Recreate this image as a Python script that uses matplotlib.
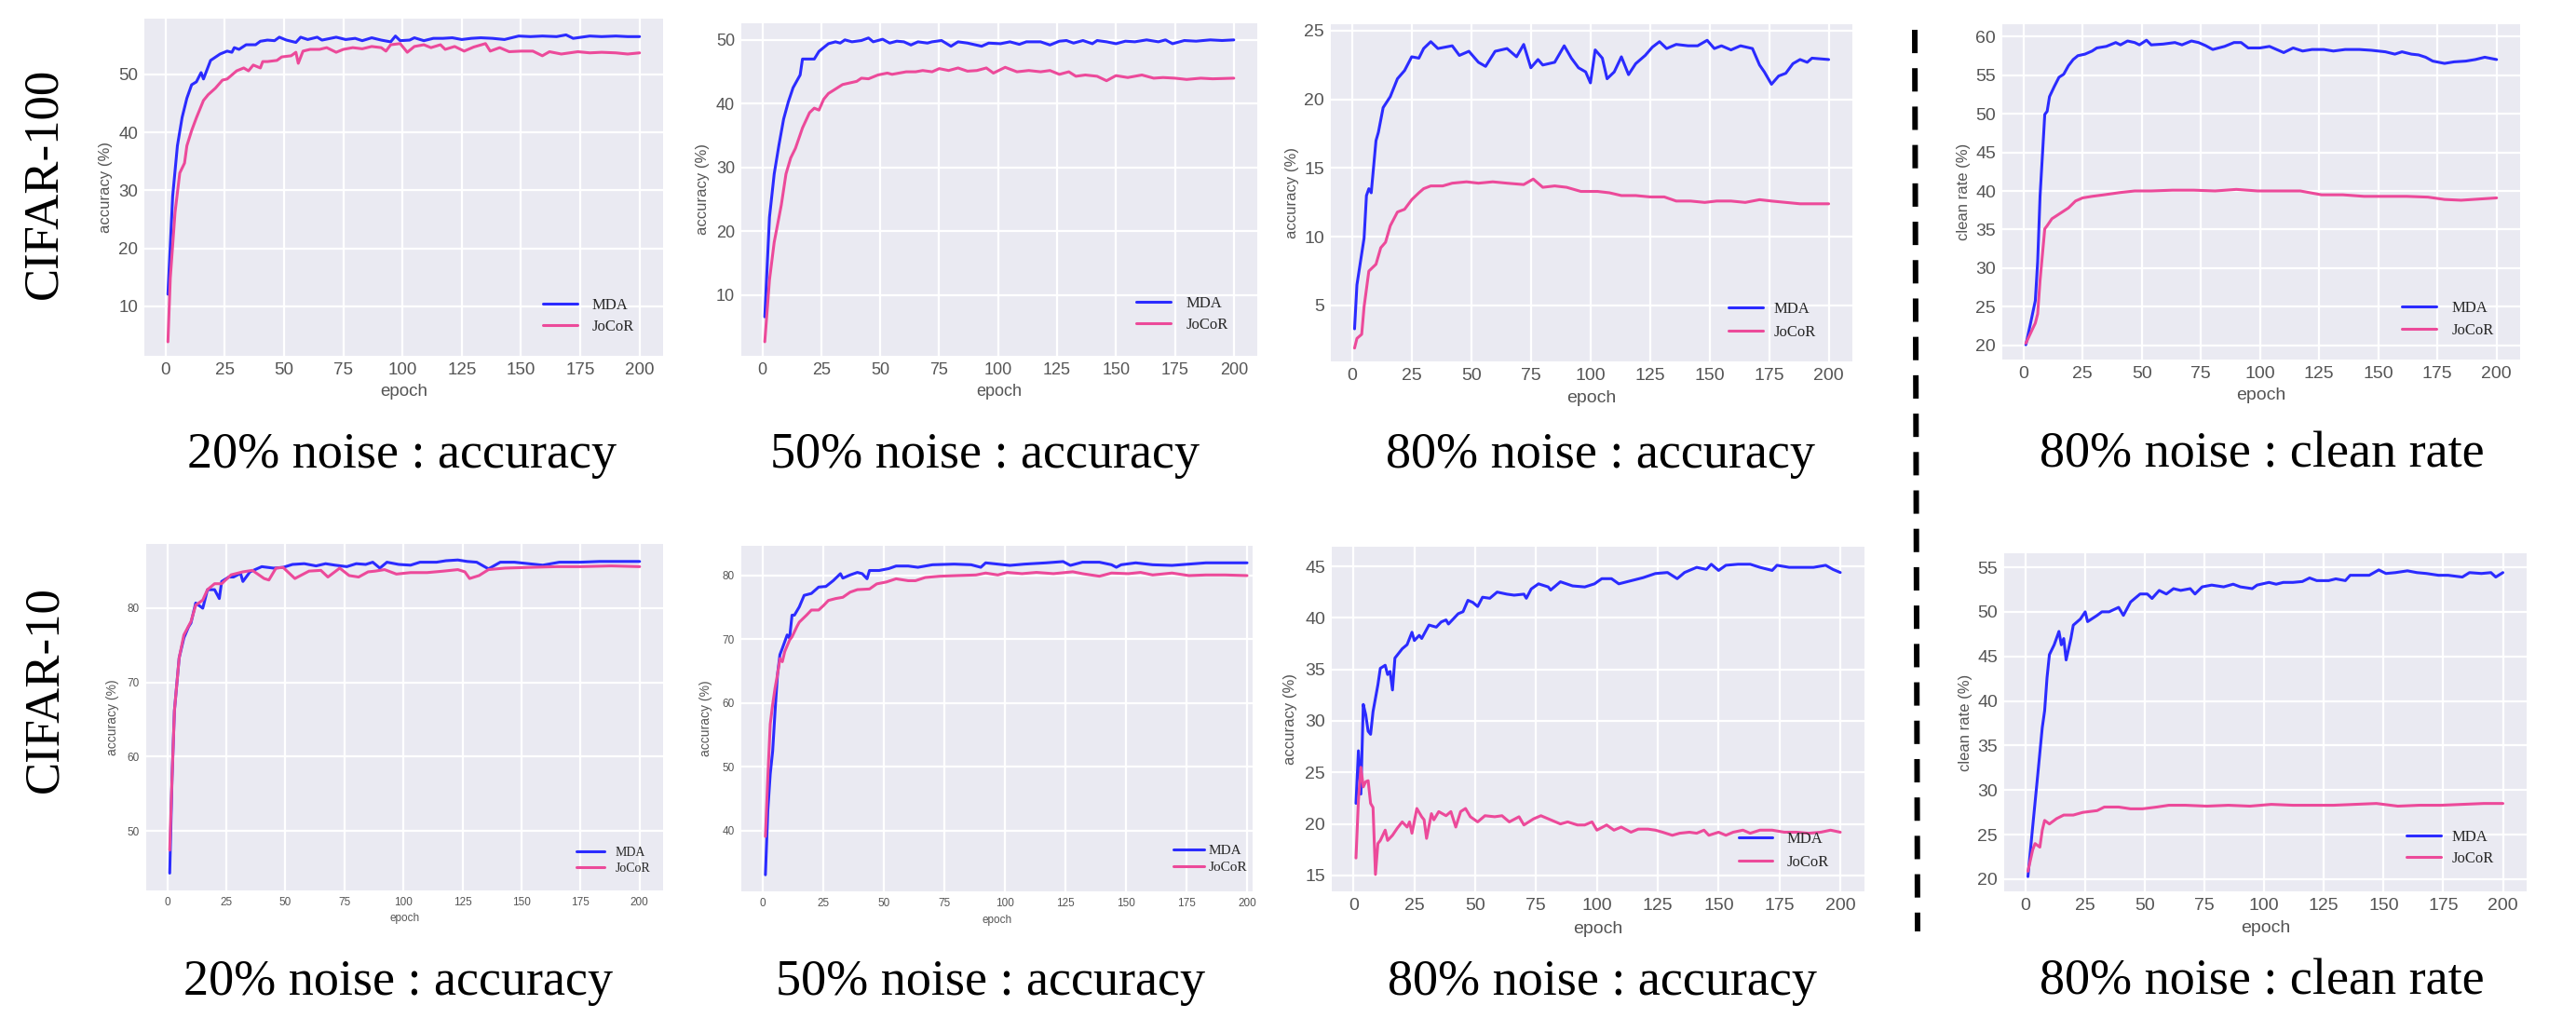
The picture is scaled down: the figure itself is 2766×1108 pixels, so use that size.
import matplotlib
matplotlib.use("Agg")
import matplotlib.pyplot as plt
import seaborn as sns
from matplotlib import font_manager
from matplotlib.lines import Line2D

# ---------------- data ----------------
methods = ["MDA", "JoCoR"]
row_labels = ["CIFAR-100", "CIFAR-10"]
titles = ["20% noise : accuracy", "50% noise : accuracy",
          "80% noise : accuracy", "80% noise : clean rate"]
ylabels = ["accuracy (%)", "accuracy (%)", "accuracy (%)", "clean rate (%)"]
xlabel = "epoch"
xticks = [0, 25, 50, 75, 100, 125, 150, 175, 200]

# CIFAR-100, 20% noise, accuracy
c100_20_ep_mda = [1, 3, 5, 7, 9, 11, 13, 15, 16, 19, 23, 26, 28, 29, 31, 34, 38, 40, 43, 46,
                  48, 51, 55, 57, 60, 64, 66, 72, 76, 80, 83, 87, 91, 95, 97, 99, 103, 105, 109, 113,
                  117, 121, 125, 129, 133, 138, 143, 149, 154, 159, 165, 169, 172, 179, 184, 190, 195, 200]
c100_20_mda = [12.1, 29.0, 37.7, 42.6, 45.9, 48.2, 48.7, 50.3, 49.2, 52.4, 53.5, 54.0, 53.8, 54.6, 54.3, 55.1, 55.1, 55.7, 55.9, 55.8,
               56.4, 55.9, 55.5, 56.4, 56.0, 56.4, 55.9, 56.4, 56.0, 56.2, 55.8, 56.3, 55.9, 55.6, 56.6, 55.8, 55.9, 56.3, 55.8, 56.2,
               56.2, 56.3, 56.0, 56.2, 56.3, 56.2, 56.0, 56.6, 56.5, 56.6, 56.5, 56.8, 56.2, 56.6, 56.5, 56.6, 56.5, 56.5]
c100_20_ep_jocor = [1, 2, 4, 6, 8, 9, 11, 13, 16, 18, 21, 24, 26, 30, 33, 35, 37, 40, 41, 43,
                    47, 49, 53, 55, 56, 58, 61, 65, 68, 72, 75, 79, 83, 87, 91, 93, 95, 99, 102, 105,
                    109, 112, 116, 118, 122, 126, 130, 135, 137, 141, 145, 150, 155, 159, 162, 167, 174, 179, 184, 190,
                    195, 200]
c100_20_jocor = [3.9, 14.9, 26.2, 33.0, 34.7, 37.7, 40.3, 42.5, 45.5, 46.5, 47.6, 49.0, 49.2, 50.6, 51.1, 50.6, 51.6, 51.1, 52.2, 52.2,
                 52.4, 53.0, 53.2, 53.8, 51.9, 54.0, 54.3, 54.3, 54.6, 53.8, 54.3, 54.6, 54.4, 54.8, 54.6, 54.0, 55.1, 55.3, 53.8, 54.8,
                 55.1, 54.6, 55.1, 54.3, 54.8, 54.0, 54.7, 55.3, 54.0, 54.6, 53.9, 54.0, 54.0, 53.2, 53.9, 53.5, 53.9, 53.7, 53.8, 53.7,
                 53.5, 53.7]

# CIFAR-100, 50% noise, accuracy
c100_50_ep_mda = [1, 3, 5, 7, 9, 11, 13, 16, 17, 22, 24, 26, 28, 31, 33, 35, 38, 42, 45, 47,
                  51, 54, 57, 60, 63, 66, 70, 72, 76, 80, 83, 87, 93, 96, 101, 105, 109, 112, 118, 122,
                  126, 129, 132, 136, 140, 142, 146, 150, 154, 158, 163, 168, 171, 174, 179, 184, 190, 195, 200]
c100_50_mda = [6.6, 22.2, 29.0, 33.5, 37.6, 40.3, 42.5, 44.5, 47.0, 47.0, 48.2, 48.8, 49.4, 49.7, 49.5, 50.0, 49.7, 49.9, 50.3, 49.7,
               50.1, 49.5, 49.8, 49.7, 49.2, 49.7, 49.5, 49.7, 49.9, 49.0, 49.7, 49.5, 49.0, 49.5, 49.4, 49.7, 49.3, 49.7, 49.7, 49.2,
               49.8, 49.9, 49.5, 49.9, 49.4, 49.9, 49.7, 49.4, 49.8, 49.7, 50.0, 49.7, 50.0, 49.4, 49.9, 49.8, 50.0, 49.9, 50.0]
c100_50_ep_jocor = [1, 3, 5, 8, 10, 12, 14, 17, 20, 22, 24, 26, 28, 34, 40, 42, 45, 49, 53, 55,
                    61, 65, 68, 72, 75, 79, 83, 87, 91, 95, 98, 103, 108, 113, 118, 122, 126, 130, 133, 137,
                    142, 146, 150, 155, 161, 166, 170, 175, 180, 186, 191, 200]
c100_50_jocor = [2.7, 12.4, 18.3, 24.1, 29.0, 31.5, 33.0, 36.2, 38.6, 39.3, 39.0, 40.7, 41.6, 43.0, 43.5, 44.0, 43.9, 44.5, 44.8, 44.6,
                 45.0, 45.0, 45.2, 45.0, 45.5, 45.2, 45.6, 45.1, 45.2, 45.6, 44.8, 45.7, 45.0, 45.2, 45.0, 45.2, 44.6, 45.0, 44.3, 44.5,
                 44.3, 43.6, 44.4, 44.1, 44.5, 44.0, 44.1, 44.0, 43.8, 44.0, 43.9, 44.0]

# CIFAR-100, 80% noise, accuracy
c100_80_ep_mda = [1, 2, 5, 6, 7, 8, 10, 11, 13, 16, 19, 22, 25, 28, 30, 33, 36, 42, 45, 49,
                  53, 56, 60, 65, 69, 72, 75, 78, 80, 85, 89, 92, 95, 98, 100, 102, 105, 107, 110, 113,
                  116, 119, 123, 126, 129, 132, 136, 141, 145, 149, 152, 155, 159, 163, 168, 171, 173, 176, 179, 182,
                  185, 188, 191, 193, 200]
c100_80_mda = [3.3, 6.5, 9.9, 13.0, 13.5, 13.2, 17.0, 17.6, 19.4, 20.2, 21.5, 22.1, 23.1, 23.0, 23.7, 24.2, 23.7, 23.9, 23.2, 23.5,
               22.7, 22.4, 23.5, 23.7, 23.1, 24.0, 22.3, 22.9, 22.5, 22.7, 23.9, 23.0, 22.3, 22.0, 21.2, 23.6, 23.0, 21.5, 22.0, 23.1,
               21.8, 22.6, 23.2, 23.8, 24.2, 23.7, 24.0, 23.9, 23.9, 24.3, 23.7, 23.9, 23.6, 23.9, 23.7, 22.5, 22.0, 21.1, 21.7, 21.9,
               22.6, 22.9, 22.7, 23.0, 22.9]
c100_80_ep_jocor = [1, 2, 4, 5, 7, 10, 12, 14, 16, 19, 22, 25, 28, 30, 33, 38, 42, 48, 53, 59,
                    65, 72, 76, 80, 85, 90, 96, 103, 108, 113, 119, 125, 131, 136, 142, 148, 153, 159, 165, 171,
                    176, 182, 188, 200]
c100_80_jocor = [1.9, 2.6, 2.9, 4.9, 7.5, 8.0, 9.2, 9.6, 10.8, 11.8, 12.0, 12.7, 13.2, 13.5, 13.7, 13.7, 13.9, 14.0, 13.9, 14.0,
                 13.9, 13.8, 14.2, 13.6, 13.7, 13.6, 13.3, 13.3, 13.2, 13.0, 13.0, 12.9, 12.9, 12.6, 12.6, 12.5, 12.6, 12.6, 12.5, 12.7,
                 12.6, 12.5, 12.4, 12.4]

# CIFAR-100, 80% noise, clean rate
c100_cr_ep_mda = [1, 3, 5, 6, 7, 9, 10, 11, 13, 15, 17, 19, 21, 23, 26, 29, 31, 35, 39, 41,
                  44, 47, 49, 52, 54, 59, 64, 67, 71, 74, 77, 80, 85, 89, 92, 95, 100, 104, 110, 114,
                  118, 122, 127, 131, 136, 142, 147, 153, 157, 160, 164, 167, 170, 173, 178, 182, 187, 191, 195, 200]
c100_cr_mda = [20.1, 22.9, 25.8, 30.9, 39.3, 49.9, 50.3, 52.2, 53.5, 54.7, 55.1, 56.2, 57.0, 57.5, 57.7, 58.1, 58.5, 58.7, 59.2, 58.9,
               59.4, 59.2, 58.9, 59.5, 58.9, 59.0, 59.2, 58.9, 59.4, 59.2, 58.8, 58.3, 58.7, 59.2, 59.2, 58.5, 58.5, 58.7, 57.9, 58.5,
               58.1, 58.3, 58.3, 58.1, 58.3, 58.3, 58.2, 58.0, 57.7, 58.0, 57.7, 57.6, 57.3, 56.8, 56.5, 56.7, 56.8, 57.0, 57.3, 57.0]
c100_cr_ep_jocor = [1, 3, 5, 6, 7, 9, 10, 12, 14, 16, 19, 22, 25, 29, 34, 41, 47, 54, 63, 72,
                    81, 90, 99, 108, 117, 126, 135, 144, 153, 162, 171, 178, 185, 190, 200]
c100_cr_jocor = [20.3, 21.6, 22.9, 24.1, 28.4, 35.1, 35.5, 36.4, 36.8, 37.2, 37.8, 38.7, 39.1, 39.3, 39.5, 39.8, 40.0, 40.0, 40.1, 40.1,
                 40.0, 40.2, 40.0, 40.0, 40.0, 39.5, 39.5, 39.3, 39.3, 39.3, 39.2, 38.9, 38.8, 38.9, 39.1]

# CIFAR-10, 20% noise, accuracy
c10_20_ep_mda = [1, 2, 3, 5, 7, 9, 10, 12, 15, 17, 20, 22, 23, 26, 28, 31, 32, 35, 40, 45,
                 49, 53, 58, 63, 67, 71, 76, 80, 84, 87, 90, 93, 98, 103, 107, 114, 118, 123, 127, 131,
                 136, 141, 147, 153, 159, 166, 175, 183, 189, 200]
c10_20_mda = [44.3, 57.2, 66.2, 73.3, 76.0, 77.5, 78.0, 80.7, 80.0, 82.5, 82.5, 81.3, 83.6, 84.2, 84.2, 84.7, 83.6, 84.9, 85.6, 85.4,
              85.5, 85.9, 86.0, 85.7, 86.0, 85.8, 85.6, 86.0, 85.9, 86.2, 85.4, 86.2, 85.9, 85.8, 86.2, 86.2, 86.4, 86.5, 86.3, 86.2,
              85.3, 86.2, 86.2, 86.0, 85.8, 86.2, 86.2, 86.3, 86.3, 86.3]
c10_20_ep_jocor = [1, 2, 3, 5, 7, 10, 12, 15, 17, 20, 23, 27, 32, 36, 41, 43, 46, 49, 54, 60,
                   65, 68, 73, 77, 81, 85, 88, 92, 97, 103, 110, 117, 123, 126, 128, 132, 136, 143, 153, 165,
                   175, 188, 200]
c10_20_jocor = [47.4, 57.2, 66.2, 73.3, 76.4, 78.2, 80.4, 81.1, 82.5, 83.3, 83.3, 84.5, 84.9, 85.1, 84.0, 83.8, 85.4, 85.5, 84.0, 85.0,
                85.1, 84.2, 85.4, 84.4, 84.2, 84.9, 85.0, 85.2, 84.6, 84.8, 84.8, 85.0, 85.2, 84.9, 84.0, 84.4, 85.2, 85.4, 85.5, 85.6,
                85.6, 85.7, 85.6]

# CIFAR-10, 50% noise, accuracy
c10_50_ep_mda = [1, 2, 3, 4, 5, 6, 7, 8, 10, 11, 12, 13, 15, 17, 20, 23, 26, 29, 32, 33,
                 36, 39, 41, 43, 44, 48, 52, 55, 60, 64, 70, 79, 86, 90, 92, 97, 102, 108, 117, 124,
                 127, 132, 139, 144, 146, 148, 154, 161, 169, 176, 183, 191, 200]
c10_50_mda = [33.1, 43.2, 48.9, 52.5, 58.8, 64.5, 67.6, 68.6, 70.7, 70.2, 73.8, 73.8, 75.1, 76.9, 77.2, 78.2, 78.3, 79.2, 80.3, 79.6,
              80.1, 80.5, 80.3, 79.5, 80.8, 80.8, 81.1, 81.5, 81.5, 81.3, 81.7, 81.8, 81.7, 81.3, 82.0, 81.8, 81.6, 81.8, 82.0, 82.2,
              81.6, 82.1, 82.1, 81.7, 81.3, 81.7, 82.0, 81.7, 81.6, 81.8, 82.0, 82.0, 82.0]
c10_50_ep_jocor = [1, 2, 3, 4, 5, 6, 7, 8, 9, 11, 12, 14, 15, 18, 20, 23, 25, 27, 30, 33,
                   36, 39, 44, 47, 51, 55, 60, 63, 67, 73, 80, 88, 92, 97, 101, 107, 113, 120, 128, 132,
                   139, 144, 151, 156, 161, 169, 176, 183, 191, 200]
c10_50_jocor = [39.1, 48.4, 56.7, 59.8, 62.4, 64.5, 67.0, 66.5, 68.1, 69.9, 70.4, 72.0, 72.7, 73.8, 74.6, 74.6, 75.3, 76.1, 76.4, 76.6,
                77.4, 77.8, 77.9, 78.7, 79.0, 79.5, 79.2, 79.2, 79.7, 79.9, 80.0, 80.1, 80.4, 80.1, 80.5, 80.3, 80.5, 80.3, 80.6, 80.3,
                79.9, 80.4, 80.3, 80.5, 80.1, 80.4, 80.0, 80.1, 80.1, 80.0]

# CIFAR-10, 80% noise, accuracy
c10_80_ep_mda = [1, 2, 3, 4, 5, 6, 7, 8, 10, 11, 13, 14, 15, 16, 17, 19, 20, 22, 24, 25,
                 27, 28, 31, 34, 36, 38, 39, 41, 43, 45, 47, 49, 51, 53, 56, 59, 63, 66, 70, 71,
                 73, 76, 80, 81, 85, 90, 95, 99, 102, 106, 109, 114, 119, 124, 129, 133, 136, 139, 141, 145,
                 147, 150, 153, 158, 163, 167, 172, 174, 179, 184, 189, 194, 197, 200]
c10_80_mda = [22.0, 27.1, 22.9, 31.6, 30.6, 29.0, 28.7, 30.9, 33.5, 35.1, 35.4, 34.5, 34.8, 33.0, 36.1, 36.7, 37.0, 37.4, 38.6, 37.8,
              38.3, 38.0, 39.3, 39.1, 39.6, 39.8, 39.4, 39.9, 40.4, 40.6, 41.7, 41.5, 41.1, 42.0, 41.9, 42.5, 42.3, 42.2, 42.3, 41.9,
              42.8, 43.3, 43.0, 42.7, 43.5, 43.1, 43.0, 43.3, 43.8, 43.8, 43.3, 43.6, 43.9, 44.3, 44.4, 43.8, 44.4, 44.7, 44.9, 44.7,
              45.2, 44.6, 45.1, 45.2, 45.2, 44.9, 44.6, 45.1, 44.9, 44.9, 44.9, 45.1, 44.7, 44.4]
c10_80_ep_jocor = [1, 2, 3, 4, 5, 6, 7, 8, 9, 10, 11, 13, 14, 16, 18, 20, 22, 23, 24, 26,
                   28, 29, 30, 32, 33, 35, 38, 40, 42, 44, 46, 48, 51, 54, 58, 61, 64, 68, 70, 74,
                   77, 81, 85, 88, 92, 95, 98, 100, 104, 107, 110, 114, 117, 121, 124, 127, 131, 134, 138, 141,
                   144, 146, 150, 153, 156, 160, 163, 167, 172, 177, 182, 187, 192, 196, 200]
c10_80_jocor = [16.7, 22.3, 25.5, 23.6, 24.1, 24.2, 22.0, 21.6, 15.1, 18.1, 18.4, 19.4, 18.4, 18.9, 19.6, 20.2, 19.7, 20.2, 19.1, 21.5,
                20.7, 20.4, 18.6, 21.0, 20.4, 21.2, 20.8, 21.2, 19.7, 21.2, 21.5, 20.7, 20.2, 20.8, 20.7, 20.8, 20.2, 20.7, 19.9, 20.5,
                20.8, 20.4, 20.0, 20.2, 19.9, 19.9, 20.2, 19.4, 19.9, 19.4, 19.7, 19.2, 19.5, 19.5, 19.4, 19.2, 18.9, 19.1, 19.2, 19.1,
                19.4, 18.9, 19.2, 18.9, 19.2, 19.4, 19.1, 19.4, 19.4, 19.2, 19.2, 19.1, 19.2, 19.4, 19.2]

# CIFAR-10, 80% noise, clean rate
c10_cr_ep_mda = [1, 3, 5, 7, 8, 9, 10, 12, 14, 15, 16, 17, 19, 20, 23, 25, 26, 30, 32, 35,
                 39, 41, 44, 48, 51, 53, 56, 59, 62, 65, 69, 71, 74, 78, 83, 87, 90, 95, 97, 102,
                 105, 108, 112, 116, 119, 122, 127, 130, 134, 136, 140, 144, 148, 151, 155, 160, 164, 168, 173, 177,
                 183, 186, 191, 195, 197, 200]
c10_cr_mda = [20.3, 25.9, 31.4, 37.0, 38.9, 42.6, 45.2, 46.3, 47.8, 46.3, 47.0, 44.6, 47.0, 48.5, 49.2, 50.0, 48.9, 49.6, 50.0, 50.0,
              50.5, 49.6, 51.1, 52.0, 52.0, 51.5, 52.4, 52.0, 52.6, 52.4, 52.6, 52.0, 52.8, 53.0, 52.8, 53.1, 52.8, 52.6, 53.0, 53.3,
              53.1, 53.3, 53.3, 53.4, 53.8, 53.5, 53.5, 53.7, 53.5, 54.1, 54.1, 54.1, 54.7, 54.3, 54.4, 54.6, 54.4, 54.3, 54.1, 54.1,
              53.9, 54.4, 54.3, 54.4, 53.9, 54.4]
c10_cr_ep_jocor = [1, 3, 4, 6, 7, 8, 10, 13, 16, 20, 24, 30, 33, 39, 44, 49, 55, 60, 67, 76,
                   85, 94, 103, 112, 120, 129, 138, 147, 156, 165, 174, 183, 192, 200]
c10_cr_jocor = [20.9, 23.3, 24.0, 23.6, 25.5, 26.6, 26.2, 26.8, 27.2, 27.2, 27.5, 27.7, 28.1, 28.1, 27.9, 27.9, 28.1, 28.3, 28.3, 28.2,
                28.3, 28.2, 28.4, 28.3, 28.3, 28.3, 28.4, 28.5, 28.2, 28.3, 28.3, 28.4, 28.5, 28.5]

panels_data = [
    (c100_20_ep_mda, c100_20_mda, c100_20_ep_jocor, c100_20_jocor),
    (c100_50_ep_mda, c100_50_mda, c100_50_ep_jocor, c100_50_jocor),
    (c100_80_ep_mda, c100_80_mda, c100_80_ep_jocor, c100_80_jocor),
    (c100_cr_ep_mda, c100_cr_mda, c100_cr_ep_jocor, c100_cr_jocor),
    (c10_20_ep_mda, c10_20_mda, c10_20_ep_jocor, c10_20_jocor),
    (c10_50_ep_mda, c10_50_mda, c10_50_ep_jocor, c10_50_jocor),
    (c10_80_ep_mda, c10_80_mda, c10_80_ep_jocor, c10_80_jocor),
    (c10_cr_ep_mda, c10_cr_mda, c10_cr_ep_jocor, c10_cr_jocor),
]
yticks_list = [
    [10, 20, 30, 40, 50], [10, 20, 30, 40, 50], [5, 10, 15, 20, 25], list(range(20, 61, 5)),
    [50, 60, 70, 80], [40, 50, 60, 70, 80], list(range(15, 46, 5)), list(range(20, 56, 5)),
]

# ---------------- layout / style ----------------
sns.set_style("darkgrid")
names = {f.name for f in font_manager.fontManager.ttflist}
NARROW = "Liberation Sans Narrow" if "Liberation Sans Narrow" in names else "Liberation Sans"
SERIF = "Liberation Serif"
plt.rcParams["font.family"] = ["Liberation Sans", "DejaVu Sans"]

W, H = 2766, 1108
fig = plt.figure(figsize=(W / 100, H / 100), dpi=100)
fig.patch.set_facecolor("white")

COL_MDA = "#2b2bff"
COL_JOCOR = "#ec4a9a"
TICK_COL = "#555555"

# (left, right, top, bottom) in pixels
boxes = [(155, 712, 20, 382), (796, 1350, 25, 382), (1429, 1989, 26, 388), (2150, 2706, 26, 386),
         (157, 712, 584, 956), (796, 1345, 586, 957), (1430, 2002, 587, 957), (2152, 2713, 594, 957)]
ylims = [(1.49, 59.6), (0.5, 52.6), (0.93, 25.47), (18.19, 61.57),
         (41.97, 88.66), (30.5, 84.67), (13.46, 46.9), (18.64, 56.57)]
xlims = [(-8.95, 209.95)] * 5 + [(-8.95, 202.3)] + [(-8.95, 209.95)] * 2
tick_fs = [13.5, 13, 14, 14, 8.5, 8.5, 14, 14]
ylab_fs = [12, 12, 12, 12, 10, 10, 12, 12]
ylab_x = [-0.061, -0.061, -0.061, -0.061, -0.052, -0.056, -0.065, -0.061]
xlab_y = [-0.083, -0.084, -0.086, -0.083, -0.065, -0.067, -0.086, -0.085]
leg_anchor = [(689, 367), (1327, 365), (1958, 373), (2686, 371),
              (705, 946), (1347, 946), (1972, 942), (2686, 938)]
leg_fs = [12, 12, 12, 12, 10, 11, 12, 12]
leg_pad = [0.95, 1.0, 0.7, 1.0, 0.8, 0.3, 0.9, 0.7]
leg_space = [0.4, 0.4, 0.5, 0.45, 0.3, 0.3, 0.5, 0.4]

for i, (epm, vm, epj, vj) in enumerate(panels_data):
    l, r, t, b = boxes[i]
    ax = fig.add_axes([l / W, 1 - b / H, (r - l) / W, (b - t) / H])
    ax.set_facecolor("#EAEAF2")
    lm, = ax.plot(epm, vm, color=COL_MDA, lw=2.2, label=methods[0])
    lj, = ax.plot(epj, vj, color=COL_JOCOR, lw=2.2, label=methods[1])
    ax.set_xlim(*xlims[i])
    ax.set_ylim(*ylims[i])
    ax.set_xticks(xticks)
    ax.set_yticks(yticks_list[i])
    ax.grid(True, color="white", lw=1.6)
    for s in ax.spines.values():
        s.set_visible(False)
    ax.tick_params(axis="both", length=0, pad=5, labelsize=tick_fs[i], labelcolor=TICK_COL)
    for lab in ax.get_xticklabels() + ax.get_yticklabels():
        lab.set_family(NARROW)
    ax.set_xlabel(xlabel, fontsize=tick_fs[i], color=TICK_COL, family=NARROW)
    ax.set_ylabel(ylabels[i % 4], fontsize=ylab_fs[i], color=TICK_COL, family="Liberation Sans")
    ax.yaxis.set_label_coords(ylab_x[i], 0.5)
    ax.xaxis.set_label_coords(0.5, xlab_y[i])
    ax_, ay_ = leg_anchor[i]
    ax.legend(handles=[lm, lj], loc="lower right", bbox_to_anchor=(ax_ / W, 1 - ay_ / H),
              bbox_transform=fig.transFigure, frameon=False, borderpad=0,
              prop={"family": SERIF, "size": leg_fs[i]}, handlelength=2.2,
              handletextpad=leg_pad[i], labelspacing=leg_space[i])

# panel captions
title_x_top = [432, 1058, 1718, 2429]
title_x_bot = [428, 1064, 1721, 2429]
for j in range(4):
    fig.text(title_x_top[j] / W, 1 - 502 / H, titles[j], ha="center", va="baseline",
             family=SERIF, fontsize=39, color="black")
    fig.text(title_x_bot[j] / W, 1 - 1068 / H, titles[j], ha="center", va="baseline",
             family=SERIF, fontsize=39, color="black")

# row labels
fig.text(47 / W, 1 - 197 / H, row_labels[0], rotation=90, ha="center", va="center",
         family=SERIF, fontsize=38, color="black")
fig.text(48 / W, 1 - 740 / H, row_labels[1], rotation=90, ha="center", va="center",
         family=SERIF, fontsize=38, color="black")

# dashed separator
fig.add_artist(Line2D([2056 / W, 2059 / W], [1 - 32 / H, 1 - 1000 / H], transform=fig.transFigure,
                      color="black", lw=4.3, linestyle=(0, (4.2, 2.7))))

fig.savefig("out.png", dpi=100, facecolor="white")
